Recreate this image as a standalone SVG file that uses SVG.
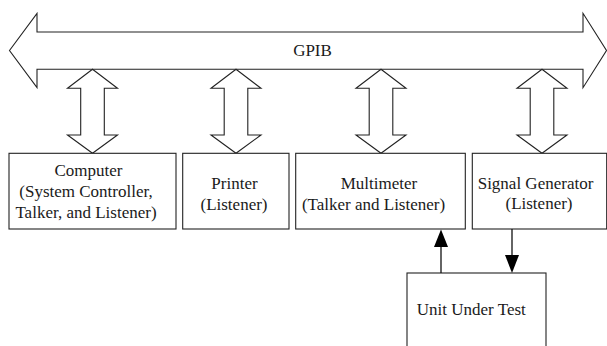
<svg xmlns="http://www.w3.org/2000/svg" width="607" height="346" viewBox="0 0 607 346">
<style>
.s{fill:#fff;stroke:#222;stroke-width:1.1;stroke-linejoin:miter}
.lbl{font-size:17px;fill:#1a1a1a;text-anchor:middle}
.c{stroke:#111;stroke-width:1.3;fill:none}
.h{fill:#000}
</style>
<rect width="607" height="346" fill="#fff"/>
<g id="gpib">
<polygon class="s" points="9.5,50.5 37,13.3 37,32 583,32 583,13.3 606.5,50.5 583,87.7 583,69.3 37,69.3 37,87.7"/>
<text class="lbl" style="font-family:'Liberation Serif',serif" x="312.5" y="56">GPIB</text>
</g>
<g id="bus-links">
<polygon class="s" points="92.5,69.3 117.5,88.3 104.3,88.3 104.3,135 117.5,135 92.5,153.3 67.5,135 80.7,135 80.7,88.3 67.5,88.3"/>
<polygon class="s" points="236,69.3 261,88.3 247.8,88.3 247.8,135 261,135 236,153.3 211,135 224.2,135 224.2,88.3 211,88.3"/>
<polygon class="s" points="381,69.3 406,88.3 392.8,88.3 392.8,135 406,135 381,153.3 356,135 369.2,135 369.2,88.3 356,88.3"/>
<polygon class="s" points="542,69.3 567,88.3 553.8,88.3 553.8,135 567,135 542,153.3 517,135 530.2,135 530.2,88.3 517,88.3"/>
</g>
<g id="computer">
<rect class="s" x="9" y="153.3" width="167" height="75.7"/>
<text class="lbl" style="font-family:'Liberation Serif',serif" x="88.5" y="176">Computer</text>
<text class="lbl" style="font-family:'Liberation Serif',serif" x="86" y="197">(System Controller,</text>
<text class="lbl" style="font-family:'Liberation Serif',serif" x="86" y="218">Talker, and Listener)</text>
</g>
<g id="printer">
<rect class="s" x="182.7" y="153.3" width="106.3" height="75.7"/>
<text class="lbl" style="font-family:'Liberation Serif',serif" x="234.5" y="189">Printer</text>
<text class="lbl" style="font-family:'Liberation Serif',serif" x="234" y="210">(Listener)</text>
</g>
<g id="multimeter">
<rect class="s" x="295.7" y="153.3" width="169.6" height="75.7"/>
<text class="lbl" style="font-family:'Liberation Serif',serif" x="379" y="189">Multimeter</text>
<text class="lbl" style="font-family:'Liberation Serif',serif" x="373.5" y="210">(Talker and Listener)</text>
</g>
<g id="signal-generator">
<rect class="s" x="472.3" y="153.3" width="134.4" height="75.7"/>
<text class="lbl" style="font-family:'Liberation Serif',serif" x="535.5" y="189">Signal Generator</text>
<text class="lbl" style="font-family:'Liberation Serif',serif" x="539" y="209">(Listener)</text>
</g>
<g id="uut">
<rect class="s" x="407" y="273" width="139" height="85"/>
<text class="lbl" style="font-family:'Liberation Serif',serif" x="471.3" y="315">Unit Under Test</text>
</g>
<g id="connectors">
<line class="c" x1="441" y1="273" x2="441" y2="246"/>
<polygon class="h" points="441,229.5 434,247 448,247"/>
<line class="c" x1="512" y1="229" x2="512" y2="256"/>
<polygon class="h" points="505,255 519,255 512,273"/>
</g>
</svg>
